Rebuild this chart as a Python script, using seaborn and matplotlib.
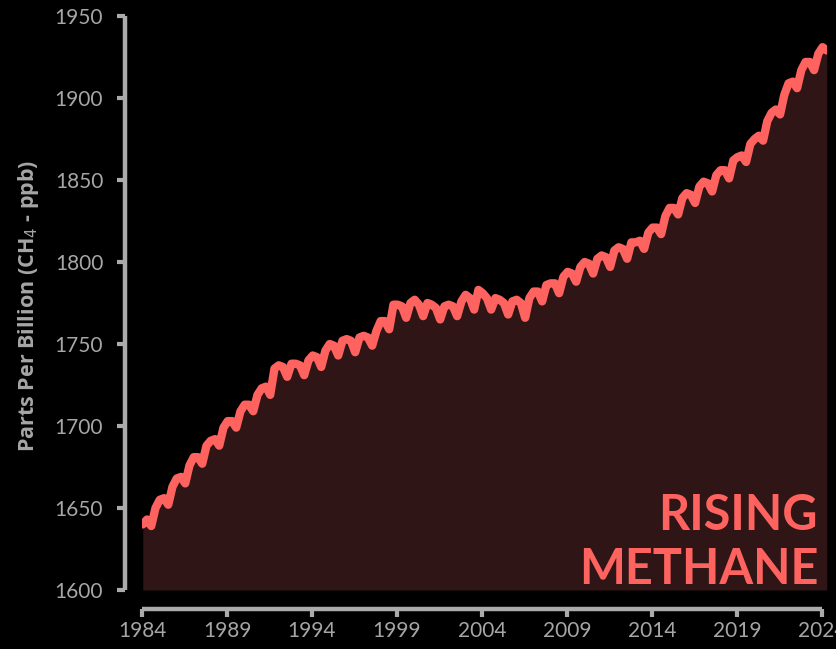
import numpy as np
import pandas as pd
import matplotlib
matplotlib.use("Agg")
import matplotlib.pyplot as plt
import seaborn as sns

# Global mean methane (ppb), sampled Jan / Apr / Jul / Oct of each year
years = list(range(1984, 2025))
months = [1, 4, 7, 10]
ch4_ppb = [
    [1640, 1643, 1639, 1650],  # 1984
    [1655, 1656, 1652, 1663],
    [1668, 1669, 1665, 1676],
    [1681, 1681, 1677, 1688],
    [1691, 1692, 1688, 1699],
    [1703, 1703, 1699, 1709],  # 1989
    [1713, 1713, 1709, 1719],
    [1723, 1724, 1719, 1735],
    [1737, 1736, 1730, 1738],
    [1738, 1737, 1731, 1740],
    [1743, 1742, 1736, 1746],  # 1994
    [1750, 1749, 1743, 1752],
    [1753, 1752, 1745, 1754],
    [1755, 1754, 1749, 1758],
    [1764, 1764, 1759, 1774],
    [1774, 1773, 1766, 1775],  # 1999
    [1777, 1774, 1767, 1775],
    [1774, 1772, 1765, 1773],
    [1774, 1773, 1767, 1776],
    [1780, 1778, 1771, 1783],
    [1781, 1778, 1771, 1778],  # 2004
    [1777, 1775, 1768, 1776],
    [1777, 1775, 1766, 1778],
    [1782, 1782, 1776, 1786],
    [1787, 1787, 1781, 1791],
    [1794, 1793, 1788, 1797],  # 2009
    [1800, 1799, 1793, 1802],
    [1804, 1803, 1797, 1807],
    [1809, 1808, 1802, 1812],
    [1812, 1813, 1808, 1818],
    [1821, 1821, 1817, 1828],  # 2014
    [1833, 1833, 1829, 1839],
    [1842, 1841, 1836, 1846],
    [1849, 1848, 1843, 1853],
    [1856, 1856, 1851, 1862],
    [1864, 1865, 1861, 1872],  # 2019
    [1875, 1877, 1874, 1886],
    [1891, 1893, 1890, 1902],
    [1909, 1910, 1906, 1917],
    [1922, 1922, 1917, 1927],
    [1931, 1929],              # 2024
]
y_ticks = [1600, 1650, 1700, 1750, 1800, 1850, 1900, 1950]
x_ticks = [1984, 1989, 1994, 1999, 2004, 2009, 2014, 2019, 2024]

rows = []
for yr, vals in zip(years, ch4_ppb):
    for m, v in zip(months, vals):
        rows.append({"time": yr + (m - 0.5) / 12, "ppb": v})
df = pd.DataFrame(rows)

line_col = "#ff635f"
fill_col = "#2f1516"
axis_col = "#ababab"
label_col = "#a6a6a6"

sns.set_theme(style="dark", rc={
    "figure.facecolor": "black",
    "axes.facecolor": "black",
    "savefig.facecolor": "black",
})
plt.rcParams["font.family"] = ["Lato", "DejaVu Sans"]

fig = plt.figure(figsize=(8.37, 6.49), dpi=100)
ax = fig.add_axes([0.1697, 0.0909, 0.8183, 0.8844])

ax.fill_between(df["time"], 1600, df["ppb"], color=fill_col, lw=0, zorder=1)
sns.lineplot(data=df, x="time", y="ppb", ax=ax, color=line_col, lw=6,
             solid_joinstyle="round", solid_capstyle="round", zorder=2)

ax.set_xlim(1984, 2024.3)
ax.set_ylim(1600, 1950)
ax.set_xticks(x_ticks)
ax.set_yticks(y_ticks)
ax.grid(False)

for side in ["top", "right"]:
    ax.spines[side].set_visible(False)
ax.spines["left"].set_position(("outward", 12))
ax.spines["bottom"].set_position(("outward", 13.5))
ax.spines["left"].set_bounds(1600, 1950)
ax.spines["bottom"].set_bounds(1984, 2024)
for side in ["left", "bottom"]:
    ax.spines[side].set_color(axis_col)
    ax.spines[side].set_linewidth(3.2)
    ax.spines[side].set_capstyle("butt")

ax.tick_params(axis="both", which="major", direction="out", length=6, width=3,
               color=axis_col, labelcolor=label_col, labelsize=15,
               left=True, bottom=True)
ax.tick_params(axis="y", pad=10)
ax.tick_params(axis="x", pad=3)

ax.set_xlabel("")
ax.set_ylabel("Parts Per Billion (CH$_4$ - ppb)", color=label_col,
              fontsize=15.5, fontweight="bold",
              family=["Open Sans", "DejaVu Sans"])
ax.yaxis.set_label_coords(-0.147, 0.495)

ax.text(0.987, 0.1045, "RISING", transform=ax.transAxes,
        ha="right", va="baseline", color=line_col, fontsize=35,
        fontweight="bold", zorder=3)
ax.text(0.987, 0.01, "METHANE", transform=ax.transAxes,
        ha="right", va="baseline", color=line_col, fontsize=35,
        fontweight="bold", zorder=3)

fig.savefig("out.png", dpi=100, facecolor="black")
